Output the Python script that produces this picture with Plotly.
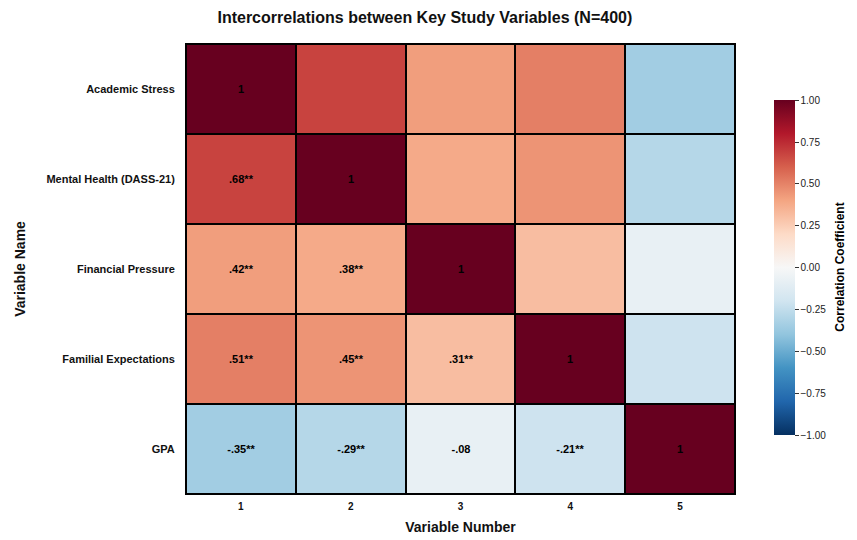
import plotly.graph_objects as go

variables = ["Academic Stress", "Mental Health (DASS-21)", "Financial Pressure",
             "Familial Expectations", "GPA"]
numbers = ["1", "2", "3", "4", "5"]

corr = [
    [1.00, 0.68, 0.42, 0.51, -0.35],
    [0.68, 1.00, 0.38, 0.45, -0.29],
    [0.42, 0.38, 1.00, 0.31, -0.08],
    [0.51, 0.45, 0.31, 1.00, -0.21],
    [-0.35, -0.29, -0.08, -0.21, 1.00],
]

labels = [
    ["1", "", "", "", ""],
    [".68**", "1", "", "", ""],
    [".42**", ".38**", "1", "", ""],
    [".51**", ".45**", ".31**", "1", ""],
    ["-.35**", "-.29**", "-.08", "-.21**", "1"],
]

rdbu = ['rgb(103,0,31)', 'rgb(178,24,43)', 'rgb(214,96,77)', 'rgb(244,165,130)',
        'rgb(253,219,199)', 'rgb(247,247,247)', 'rgb(209,229,240)', 'rgb(146,197,222)',
        'rgb(67,147,195)', 'rgb(33,102,172)', 'rgb(5,48,97)']
rdbu_r = rdbu[::-1]
cscale = [[i / (len(rdbu_r) - 1), c] for i, c in enumerate(rdbu_r)]

FONT = "Liberation Sans, Arial, sans-serif"

fig = go.Figure(go.Heatmap(
    z=corr, x=numbers, y=variables, text=labels, texttemplate="%{text}",
    textfont=dict(family=FONT, size=11, color="black", weight="bold"),
    colorscale=cscale, zmin=-1, zmax=1, xgap=2, ygap=2,
    colorbar=dict(
        x=1.053, xanchor="left", y=0.503, yanchor="middle", len=0.789, lenmode="fraction",
        thickness=21, outlinewidth=0,
        tickvals=[-1, -0.75, -0.5, -0.25, 0, 0.25, 0.5, 0.75, 1],
        tickformat=".2f", ticks="outside", ticklen=4, tickcolor="#333",
        tickfont=dict(family=FONT, size=10, color="#222"),
    ),
    hoverongaps=False,
))

fig.add_annotation(
    text="Correlation Coefficient", textangle=-90, xref="paper", yref="paper",
    x=(840 - 186) / 549, y=0.503, xanchor="center", yanchor="middle", showarrow=False,
    font=dict(family=FONT, size=12, color="black", weight="bold"),
)

fig.update_layout(
    width=849, height=532,
    margin=dict(l=178, r=122, t=36, b=46, autoexpand=False),
    paper_bgcolor="white", plot_bgcolor="black",
    title=dict(text="Intercorrelations between Key Study Variables (N=400)",
               x=0.491, xref="container", xanchor="center", y=0.983, yanchor="middle",
               font=dict(family=FONT, size=16, color="#111", weight="bold")),
)
fig.update_xaxes(
    type="category", showgrid=False, zeroline=False, ticks="", ticklabelstandoff=3,
    automargin=False,
    tickfont=dict(family=FONT, size=10, color="#111", weight="bold"),
    title=dict(text="Variable Number", standoff=11,
               font=dict(family=FONT, size=14, color="#111", weight="bold")),
    showline=True, linecolor="black", linewidth=1, mirror=True,
)
fig.update_yaxes(
    type="category", autorange="reversed", showgrid=False, zeroline=False, ticks="",
    ticklabelstandoff=8, automargin=False,
    tickfont=dict(family=FONT, size=11, color="#111", weight="bold"),
    title=dict(text="Variable Name", standoff=17,
               font=dict(family=FONT, size=14, color="#111", weight="bold")),
    showline=True, linecolor="black", linewidth=1, mirror=True,
)

fig.write_html("out.html")
